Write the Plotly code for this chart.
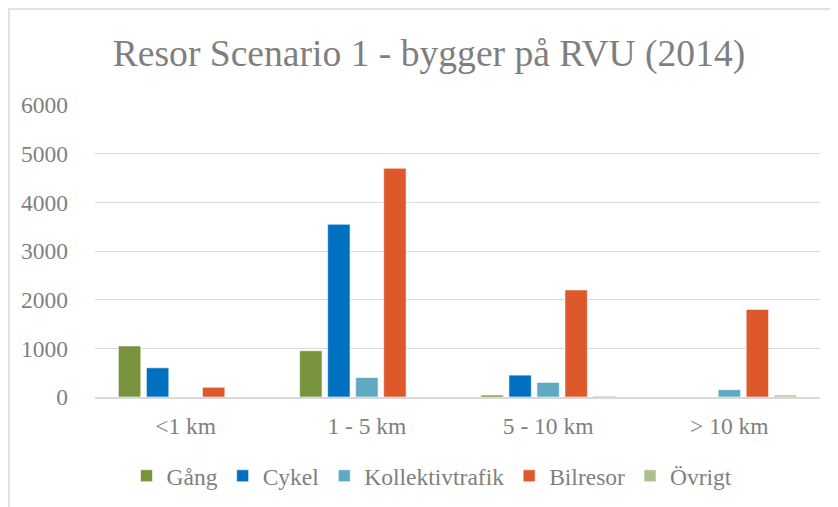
import plotly.graph_objects as go

categories = ["<1 km", "1 - 5 km", "5 - 10 km", "> 10 km"]
series_names = ["Gång", "Cykel", "Kollektivtrafik", "Bilresor", "Övrigt"]
gang = [1050, 950, 40, 0]
cykel = [600, 3550, 450, 0]
kollektiv = [0, 400, 300, 150]
bilresor = [200, 4700, 2200, 1800]
ovrigt = [0, 0, 20, 40]
y_ticks = [0, 1000, 2000, 3000, 4000, 5000, 6000]

colors = ["#77933C", "#0070C0", "#5FA9C3", "#DD582A", "#ABC18C"]
values = [gang, cykel, kollektiv, bilresor, ovrigt]

# page body has an 8px margin, so layout is shifted by -8px
OFF = 8
W, H = 838, 507
ml = 95 - OFF
mt = 105 - OFF
mr = W - (820 - OFF)
mb = H - (397 - OFF)
pw = W - ml - mr
ph = H - mt - mb

fig = go.Figure()
for name, vals, col in zip(series_names, values, colors):
    fig.add_trace(go.Bar(
        x=categories, y=vals, name=name,
        marker=dict(color=col, line=dict(color="rgba(255,255,255,0.6)", width=1)),
    ))

font_family = "Liberation Serif"
grey = "#7F7F7F"

def px_to_paper_x(px):
    return (px - OFF - ml) / pw

def px_to_paper_y(py):
    return (H - mb - (py - OFF)) / ph

fig.add_shape(type="rect", xref="paper", yref="paper",
              x0=px_to_paper_x(9), x1=px_to_paper_x(W + 30),
              y0=px_to_paper_y(H + 30), y1=px_to_paper_y(9),
              line=dict(color="#D9D9D9", width=1.5), fillcolor="rgba(0,0,0,0)", layer="below")

fig.update_layout(
    width=W, height=H,
    margin=dict(l=ml, r=mr, t=mt, b=mb, autoexpand=False),
    paper_bgcolor="white", plot_bgcolor="white",
    barmode="group", bargap=0.227, bargroupgap=0.2,
    title=dict(text="Resor Scenario 1 - bygger på RVU (2014)",
               x=(429 - OFF) / W, xanchor="center", xref="container",
               y=1 - (53 - OFF) / H, yanchor="middle", yref="container",
               font=dict(family=font_family, size=37.6, color=grey)),
    font=dict(family=font_family, size=23.5, color=grey),
    showlegend=True,
    legend=dict(orientation="h", x=(432 - OFF) / W, xanchor="center", xref="container",
                y=1 - (476 - OFF) / H, yanchor="middle", yref="container",
                font=dict(family=font_family, size=23.5, color=grey),
                itemwidth=30, traceorder="normal", bgcolor="rgba(0,0,0,0)"),
    xaxis=dict(showgrid=False, showline=True, linecolor="#D9D9D9", linewidth=2,
               ticks="", ticklabelstandoff=7, tickfont=dict(family=font_family, size=23.5, color=grey)),
    yaxis=dict(range=[0, 6000], tickvals=y_ticks, showgrid=True, gridcolor="#D9D9D9",
               gridwidth=1, zeroline=False, showline=False, ticks="",
               ticklabelstandoff=26, tickfont=dict(family=font_family, size=23.5, color=grey)),
)

fig.write_html("out.html")
